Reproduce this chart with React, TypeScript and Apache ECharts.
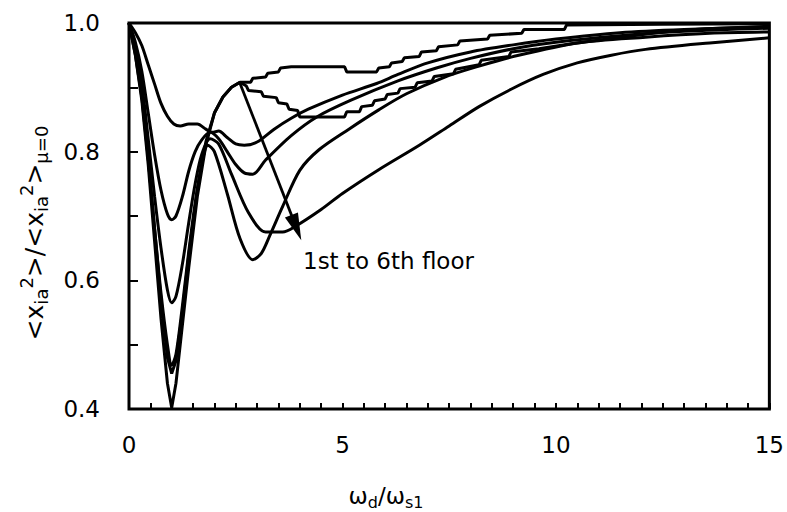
import React, { useEffect, useRef } from 'react';
import * as echarts from 'echarts';

// x = omega_d / omega_s1, y = <x_ia^2>/<x_ia^2>_{mu=0}
const floor1: [number, number][] = [
  [0, 1], [0.15, 0.985], [0.3, 0.965], [0.45, 0.935], [0.6, 0.905], [0.75, 0.875], [0.9, 0.855],
  [1.05, 0.843], [1.2, 0.84], [1.4, 0.843], [1.6, 0.843], [1.8, 0.835], [1.95, 0.83], [2.1, 0.832],
  [2.3, 0.822], [2.5, 0.812], [2.7, 0.81], [3.0, 0.815], [3.4, 0.835], [3.8, 0.852], [4.2, 0.866],
  [5.0, 0.888], [5.8, 0.906], [6.3, 0.92], [7.0, 0.938], [8.0, 0.955], [9.0, 0.966], [10.0, 0.975],
  [11.5, 0.985], [13.0, 0.99], [15.0, 0.994],
];

const floor2: [number, number][] = [
  [0, 1], [0.15, 0.97], [0.3, 0.925], [0.45, 0.86], [0.6, 0.795], [0.75, 0.74], [0.9, 0.703],
  [1.0, 0.694], [1.1, 0.7], [1.25, 0.73], [1.4, 0.77], [1.55, 0.8], [1.7, 0.818], [1.9, 0.83],
  [2.1, 0.82], [2.3, 0.8], [2.5, 0.78], [2.7, 0.767], [2.9, 0.765], [3.2, 0.787], [3.8, 0.825],
  [4.4, 0.854], [5.2, 0.88], [6.3, 0.91], [7.2, 0.93], [8.0, 0.945], [9.0, 0.96], [10.0, 0.97],
  [11.5, 0.98], [13.0, 0.987], [15.0, 0.992],
];

const floor3: [number, number][] = [
  [0, 1], [0.15, 0.96], [0.3, 0.905], [0.45, 0.82], [0.6, 0.73], [0.75, 0.65], [0.9, 0.585],
  [1.0, 0.565], [1.1, 0.575], [1.25, 0.625], [1.4, 0.69], [1.55, 0.75], [1.7, 0.795], [1.9, 0.82],
  [2.1, 0.812], [2.4, 0.765], [2.8, 0.705], [3.2, 0.675], [3.6, 0.675], [3.9, 0.684], [4.5, 0.71],
  [5.0, 0.735], [5.85, 0.772], [6.8, 0.81], [7.5, 0.84], [8.2, 0.87], [8.95, 0.897], [9.7, 0.92],
  [10.5, 0.938], [11.3, 0.95], [12.1, 0.959], [13.6, 0.969], [15.0, 0.977],
];

const floor4: [number, number][] = [
  [0, 1], [0.15, 0.955], [0.3, 0.89], [0.45, 0.79], [0.6, 0.68], [0.75, 0.58], [0.9, 0.5],
  [1.0, 0.468], [1.1, 0.485], [1.25, 0.56], [1.4, 0.645], [1.55, 0.72], [1.7, 0.78], [1.85, 0.81],
  [2.0, 0.8], [2.3, 0.735], [2.6, 0.665], [2.9, 0.632], [3.1, 0.642], [3.3, 0.67], [3.6, 0.715],
  [4.0, 0.771], [4.45, 0.803], [5.15, 0.835], [5.85, 0.865], [6.5, 0.89], [7.4, 0.916], [8.2, 0.933],
  [8.95, 0.947], [10.5, 0.969], [12.1, 0.978], [13.6, 0.984], [15.0, 0.986],
];

const floor5: [number, number][] = [
  [0, 1], [0.15, 0.95], [0.3, 0.885], [0.45, 0.79], [0.6, 0.68], [0.75, 0.57], [0.9, 0.48],
  [1.0, 0.455], [1.1, 0.475], [1.25, 0.55], [1.4, 0.64], [1.6, 0.74], [1.8, 0.815], [2.0, 0.86],
  [2.2, 0.885], [2.4, 0.9], [2.6, 0.908], [2.75, 0.902], [2.8, 0.895], [3.1, 0.893], [3.15, 0.886],
  [3.45, 0.884], [3.5, 0.876], [3.7, 0.874], [3.75, 0.866], [3.95, 0.864], [4.0, 0.854],
  [5.05, 0.854], [5.1, 0.862], [5.4, 0.862], [5.45, 0.87], [5.7, 0.872], [5.75, 0.879],
  [6.0, 0.882], [6.05, 0.889], [6.3, 0.891], [6.35, 0.898], [6.7, 0.9], [6.75, 0.907],
  [7.1, 0.91], [7.15, 0.917], [7.6, 0.921], [7.65, 0.928], [8.2, 0.935], [8.25, 0.942],
  [8.9, 0.948], [8.95, 0.955], [9.6, 0.96], [10.4, 0.968], [11.3, 0.976], [12.5, 0.986],
  [13.5, 0.991], [15.0, 0.995],
];

const floor6: [number, number][] = [
  [0, 1], [0.15, 0.95], [0.3, 0.88], [0.45, 0.78], [0.6, 0.66], [0.75, 0.54], [0.9, 0.44],
  [1.0, 0.402], [1.1, 0.44], [1.25, 0.53], [1.4, 0.62], [1.6, 0.73], [1.8, 0.81], [2.0, 0.86],
  [2.2, 0.885], [2.4, 0.9], [2.6, 0.908], [2.85, 0.908], [2.9, 0.914], [3.2, 0.916], [3.25, 0.922],
  [3.5, 0.924], [3.55, 0.93], [3.8, 0.932], [5.05, 0.932], [5.1, 0.924], [5.8, 0.924],
  [5.85, 0.93], [6.1, 0.932], [6.15, 0.938], [6.4, 0.94], [6.45, 0.946], [6.8, 0.948],
  [6.85, 0.955], [7.2, 0.957], [7.25, 0.963], [7.7, 0.966], [7.75, 0.972], [8.4, 0.975],
  [8.45, 0.981], [9.2, 0.984], [9.25, 0.99], [10.2, 0.99], [10.25, 0.997], [12.5, 0.998],
  [15.0, 0.999],
];

const floorSeries = [floor1, floor2, floor3, floor4, floor5, floor6];
const floorNames = ['1st floor', '2nd floor', '3rd floor', '4th floor', '5th floor', '6th floor'];
const smoothFlags = [0.3, 0.3, 0.3, 0.3, false, false];

const arrowStart: [number, number] = [2.59, 0.908];
const arrowEnd: [number, number] = [3.92, 0.682];
const annotation = '1st to 6th floor';

const xTickLabels = ['0', '5', '10', '15'];
const yTickLabels = ['0.4', '0.6', '0.8', '1.0'];

const FONT = 'DejaVu Sans';

export default function App() {
  const ref = useRef<HTMLDivElement>(null);
  useEffect(() => {
    const chart = echarts.init(ref.current!, null, { renderer: 'svg' });
    const series: any[] = floorSeries.map((d, i) => ({
      name: floorNames[i],
      type: 'line',
      data: d,
      showSymbol: false,
      smooth: smoothFlags[i],
      lineStyle: { color: '#000', width: 3 },
      z: 3,
    }));
    series[0].markLine = {
      silent: true,
      symbol: ['none', 'triangle'],
      symbolSize: [14, 27],
      lineStyle: { color: '#000', width: 2.8, type: 'solid' },
      itemStyle: { color: '#000' },
      label: { show: false },
      data: [[{ coord: arrowStart }, { coord: arrowEnd }]],
    };
    chart.setOption({
      animation: false,
      backgroundColor: '#fff',
      grid: {
        left: 129, right: 14, top: 23, bottom: 103,
        show: true, borderColor: '#000', borderWidth: 3, backgroundColor: 'transparent',
      },
      xAxis: {
        type: 'value', min: 0, max: 15, interval: 0.5,
        axisLine: { show: false },
        splitLine: { show: false },
        axisTick: { show: true, inside: true, length: 6, lineStyle: { color: '#000', width: 2 } },
        axisLabel: {
          margin: 24, color: '#000', fontFamily: FONT, fontSize: 23,
          formatter: (v: number) => {
            const s = String(Math.round(v * 10) / 10);
            return xTickLabels.includes(s) ? s : '';
          },
        },
      },
      yAxis: {
        type: 'value', min: 0.4, max: 1.0, interval: 0.1,
        axisLine: { show: false },
        splitLine: { show: false },
        axisTick: { show: true, inside: true, length: 9, lineStyle: { color: '#000', width: 2 } },
        axisLabel: {
          margin: 29, color: '#000', fontFamily: FONT, fontSize: 23,
          formatter: (v: number) => {
            const s = v.toFixed(1);
            return yTickLabels.includes(s) ? s : '';
          },
        },
      },
      graphic: [
        {
          type: 'text', left: 303, top: 249,
          style: { text: annotation, fill: '#000', font: `23px "${FONT}"` },
        },
        {
          type: 'text', x: 386, y: 496,
          style: {
            text: 'ω{sub|d}/ω{sub|s1}',
            fill: '#000', font: `23px "${FONT}"`, align: 'center', verticalAlign: 'middle',
            rich: {
              sub: { fontSize: 16, fontFamily: FONT, fill: '#000', padding: [12, 0, 0, 0], verticalAlign: 'middle' },
            },
          },
        },
        {
          type: 'text', x: 34, y: 233, rotation: Math.PI / 2,
          style: {
            text: '<x{sub|ia}{sup|2}>/<x{sub|ia}{sup|2}>{sub|μ=0}',
            fill: '#000', font: `25px "${FONT}"`, align: 'center', verticalAlign: 'middle',
            rich: {
              sub: { fontSize: 18, fontFamily: FONT, fill: '#000', padding: [14, 0, 0, 0], verticalAlign: 'middle' },
              sup: { fontSize: 18, fontFamily: FONT, fill: '#000', padding: [0, 0, 16, 0], verticalAlign: 'middle' },
            },
          },
        },
      ],
      series,
    });
    return () => chart.dispose();
  }, []);
  return <div ref={ref} style={{ position: 'fixed', left: 0, top: 0, width: 787, height: 512 }} />;
}
